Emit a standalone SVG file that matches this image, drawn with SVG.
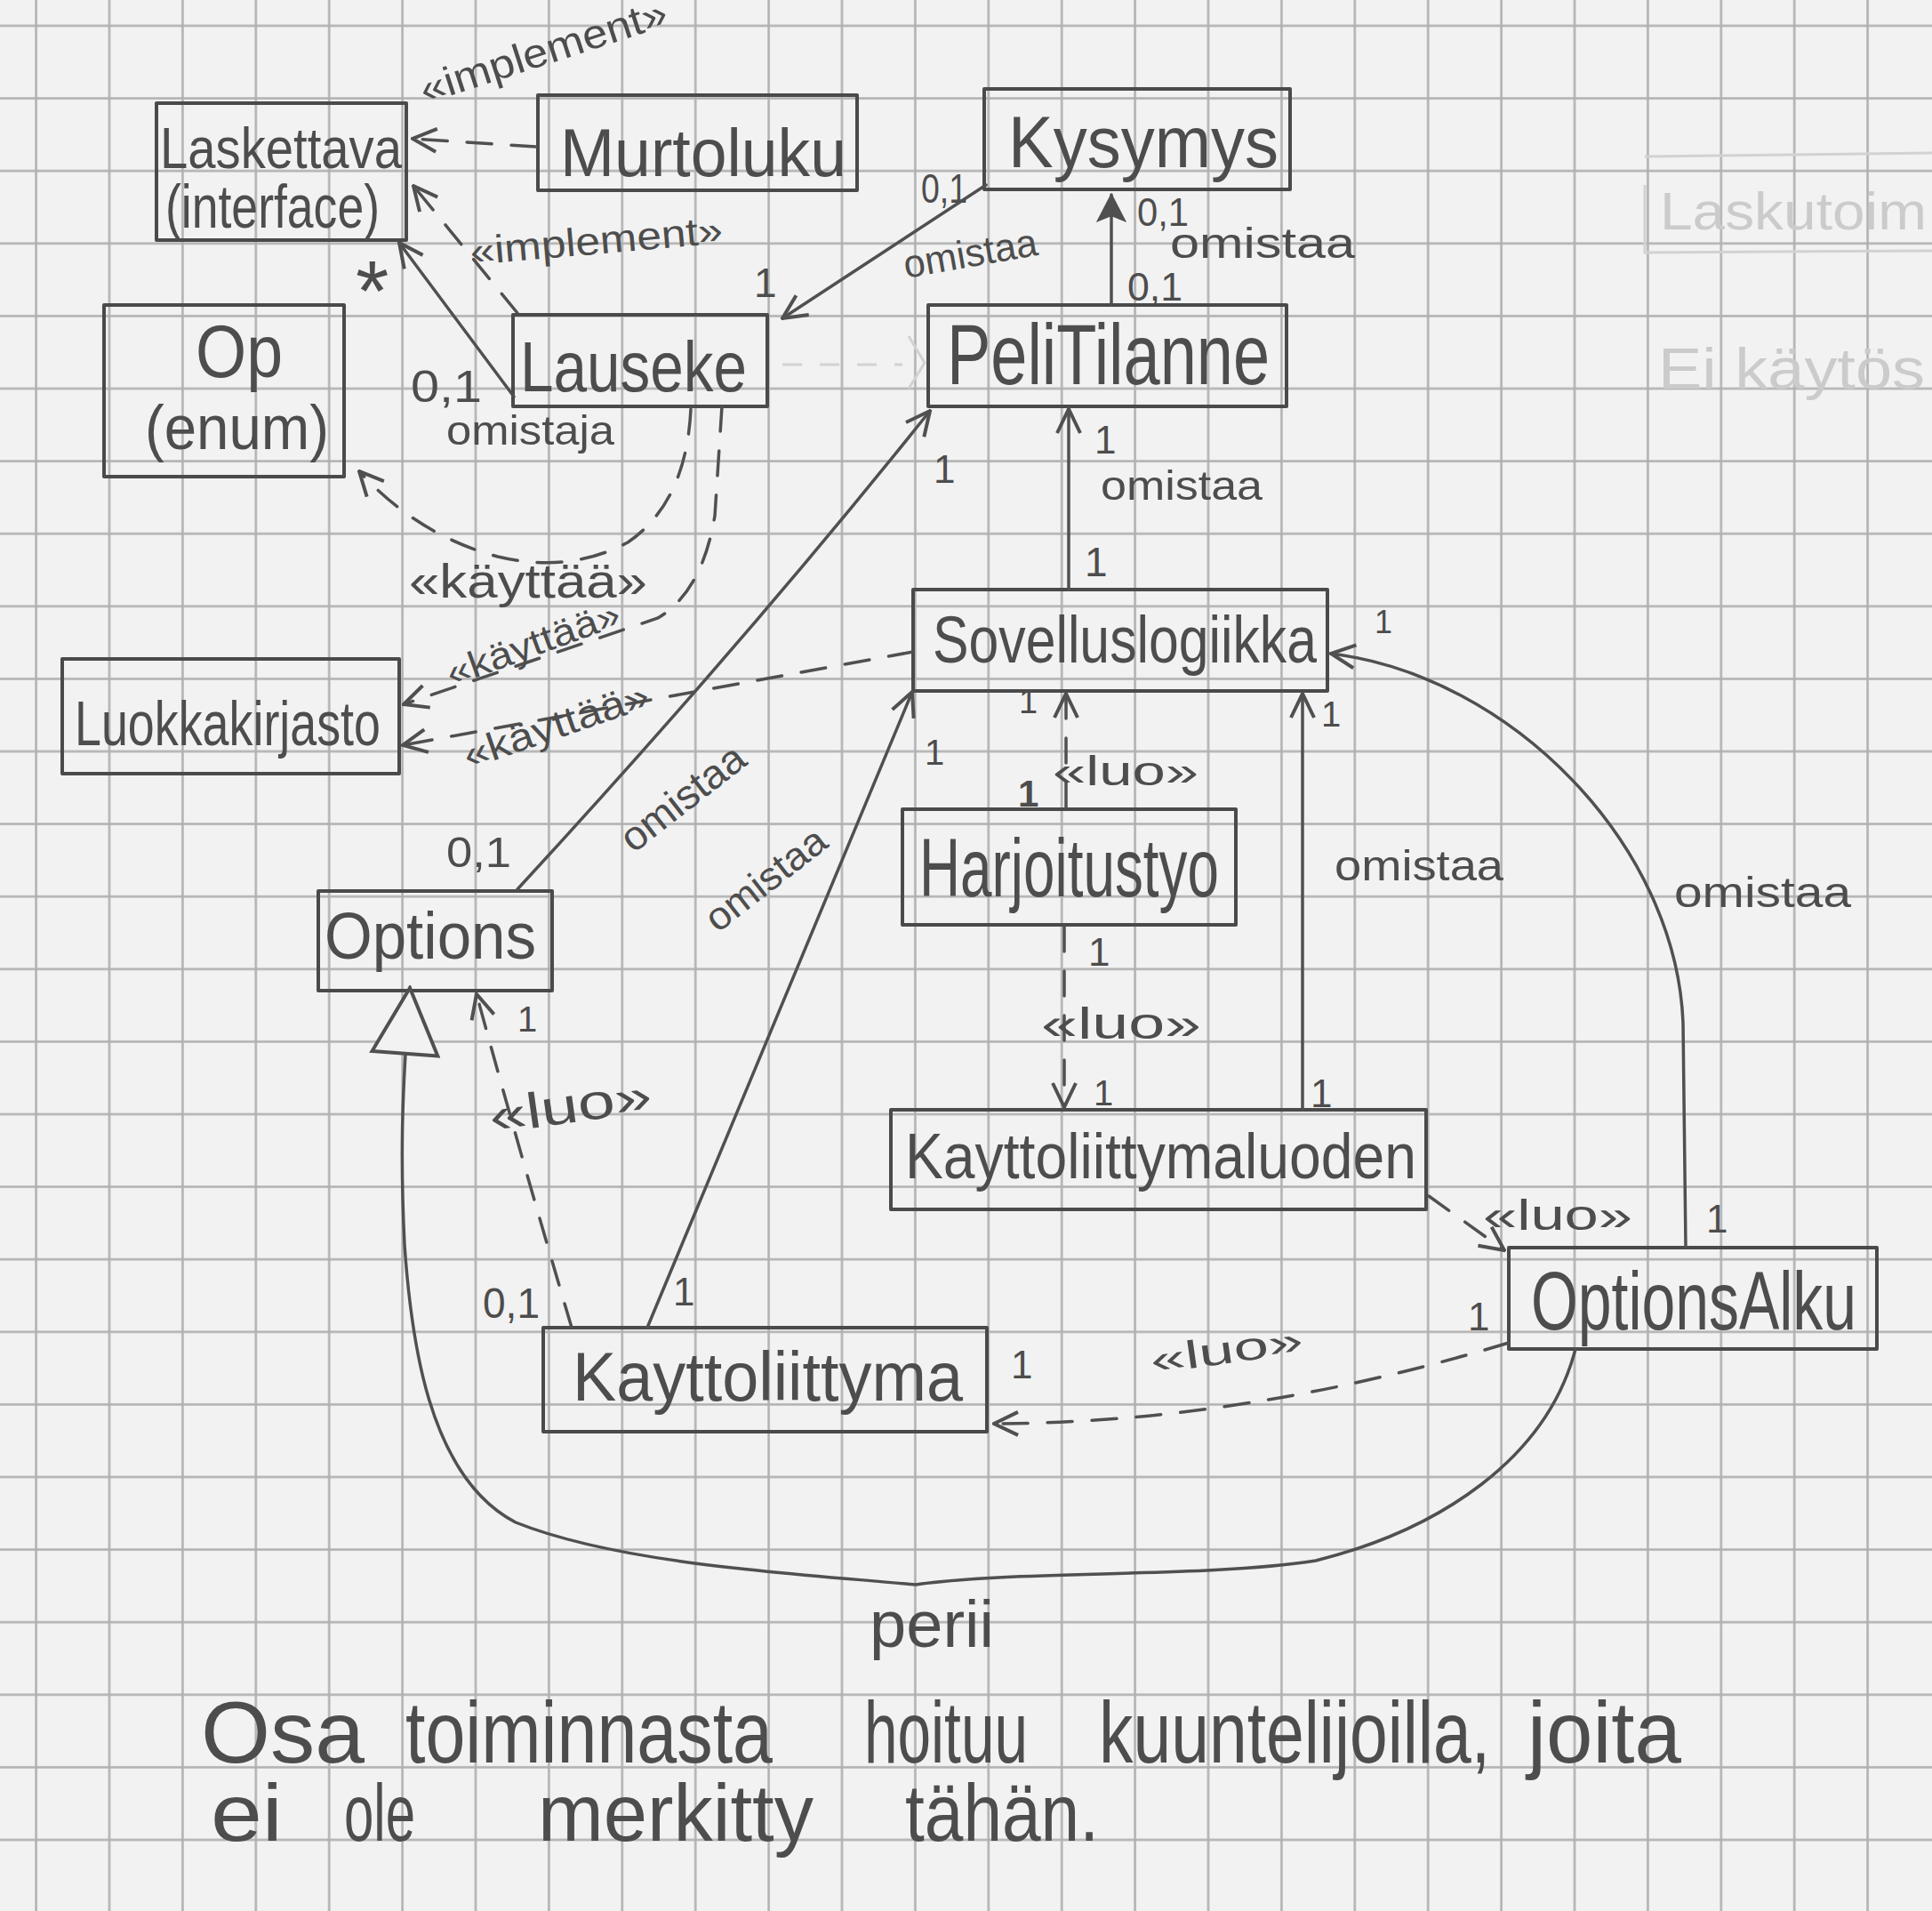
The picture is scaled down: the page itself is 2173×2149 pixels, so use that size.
<svg xmlns="http://www.w3.org/2000/svg" width="2173" height="2149" viewBox="0 0 2173 2149">
<style>
.box{fill:none;stroke:#4a4a4a;stroke-width:4;stroke-linejoin:round}
.ln{fill:none;stroke:#505050;stroke-width:3.5;stroke-linecap:round}
.dash{stroke-dasharray:28 22}
.faint{fill:none;stroke:#d2d2d2;stroke-width:3}
text{font-family:"Liberation Sans",Arial,sans-serif;fill:#4d4d4d}
.ft{fill:#cbcbcb}
</style>
<defs>
<pattern id="grid" patternUnits="userSpaceOnUse" x="121.5" y="27.5" width="82.4" height="81.6">
<path d="M1.5,0 V81.6 M0,1.5 H82.4" stroke="#b0b0b0" stroke-width="2.5" fill="none"/>
</pattern>
<marker id="open" viewBox="0 0 32 32" refX="30" refY="16" markerWidth="32" markerHeight="32" markerUnits="userSpaceOnUse" orient="auto">
<path d="M3,3 L30,16 L3,29" fill="none" stroke="#505050" stroke-width="4" stroke-dasharray="none"/>
</marker>
<marker id="filled" viewBox="0 0 32 34" refX="31" refY="17" markerWidth="32" markerHeight="34" markerUnits="userSpaceOnUse" orient="auto">
<path d="M2,2 L31,17 L2,32 L8,17 Z" fill="#505050" stroke="#505050" stroke-width="2"/>
</marker>
<marker id="tri" viewBox="0 0 80 80" refX="77" refY="40" markerWidth="80" markerHeight="80" markerUnits="userSpaceOnUse" orient="auto">
<path d="M3,3 L77,40 L3,77 Z" fill="#f2f2f2" stroke="#505050" stroke-width="4" stroke-dasharray="none"/>
</marker>
</defs>
<rect x="0" y="0" width="2173" height="2149" fill="#f2f2f2"/>
<rect x="0" y="0" width="2173" height="2149" fill="url(#grid)"/>

<g id="faint-erased">
<path class="faint" d="M1850,176 L2173,172 M1850,208 L1850,284 L2173,282"/>
<text class="ft" x="1867" y="258" font-size="60" textLength="300" lengthAdjust="spacingAndGlyphs">Laskutoim</text>
<text class="ft" x="1865" y="437" font-size="64" textLength="300" lengthAdjust="spacingAndGlyphs">Ei käytös</text>
<path class="faint" d="M880,410 L1015,410" stroke-dasharray="22 20"/>
<path class="faint" d="M1022,378 L1040,408 L1022,437"/>
</g>

<g id="nodes">
<g id="laskettava">
<rect class="box" x="176" y="116" width="281" height="154"/>
<text x="180" y="189" font-size="64" textLength="272" lengthAdjust="spacingAndGlyphs">Laskettava</text>
<text x="186" y="256" font-size="68" textLength="241" lengthAdjust="spacingAndGlyphs">(interface)</text>
</g>
<g id="murtoluku">
<rect class="box" x="605" y="107" width="359" height="107"/>
<text x="630" y="198" font-size="76" textLength="322" lengthAdjust="spacingAndGlyphs">Murtoluku</text>
</g>
<g id="kysymys">
<rect class="box" x="1107" y="100" width="344" height="113"/>
<text x="1134" y="188" font-size="82" textLength="304" lengthAdjust="spacingAndGlyphs">Kysymys</text>
</g>
<g id="op">
<rect class="box" x="117" y="343" width="270" height="193"/>
<text x="220" y="424" font-size="84" textLength="98" lengthAdjust="spacingAndGlyphs">Op</text>
<text x="163" y="505" font-size="70" textLength="207" lengthAdjust="spacingAndGlyphs">(enum)</text>
</g>
<g id="lauseke">
<rect class="box" x="577" y="354" width="286" height="103"/>
<text x="585" y="440" font-size="80" textLength="255" lengthAdjust="spacingAndGlyphs">Lauseke</text>
</g>
<g id="pelitilanne">
<rect class="box" x="1044" y="343" width="403" height="114"/>
<text x="1065" y="432" font-size="96" textLength="363" lengthAdjust="spacingAndGlyphs">PeliTilanne</text>
</g>
<g id="sovelluslogiikka">
<rect class="box" x="1027" y="663" width="466" height="114"/>
<text x="1049" y="745" font-size="74" textLength="432" lengthAdjust="spacingAndGlyphs">Sovelluslogiikka</text>
</g>
<g id="luokkakirjasto">
<rect class="box" x="70" y="741" width="379" height="129"/>
<text x="84" y="838" font-size="70" textLength="344" lengthAdjust="spacingAndGlyphs">Luokkakirjasto</text>
</g>
<g id="harjoitustyo">
<rect class="box" x="1015" y="910" width="375" height="130"/>
<text x="1034" y="1008" font-size="92" textLength="337" lengthAdjust="spacingAndGlyphs">Harjoitustyo</text>
</g>
<g id="options">
<rect class="box" x="358" y="1002" width="263" height="112"/>
<text x="365" y="1078" font-size="74" textLength="238" lengthAdjust="spacingAndGlyphs">Options</text>
</g>
<g id="kayttoliittymaluoden">
<rect class="box" x="1002" y="1248" width="602" height="112"/>
<text x="1018" y="1325" font-size="72" textLength="575" lengthAdjust="spacingAndGlyphs">Kayttoliittymaluoden</text>
</g>
<g id="optionsalku">
<rect class="box" x="1697" y="1403" width="414" height="114"/>
<text x="1722" y="1495" font-size="92" textLength="366" lengthAdjust="spacingAndGlyphs">OptionsAlku</text>
</g>
<g id="kayttoliittyma">
<rect class="box" x="611" y="1493" width="499" height="117"/>
<text x="644" y="1575" font-size="78" textLength="439" lengthAdjust="spacingAndGlyphs">Kayttoliittyma</text>
</g>
</g>

<g id="connectors">
<!-- Murtoluku implements Laskettava -->
<path class="ln dash" d="M603,165 L464,156" marker-end="url(#open)"/>
<text x="478" y="117" font-size="46" textLength="290" lengthAdjust="spacingAndGlyphs" transform="rotate(-18 478 117)">«implement»</text>
<!-- Lauseke implements Laskettava -->
<path class="ln dash" d="M582,352 L465,209" marker-end="url(#open)"/>
<text x="530" y="298" font-size="44" textLength="285" lengthAdjust="spacingAndGlyphs" transform="rotate(-5 530 298)">«implement»</text>
<!-- Lauseke omistaja Laskettava -->
<path class="ln" d="M578,446 L449,273" marker-end="url(#open)"/>
<text x="400" y="360" font-size="96">*</text>
<text x="462" y="452" font-size="50" textLength="80" lengthAdjust="spacingAndGlyphs">0,1</text>
<text x="502" y="500" font-size="46" textLength="189" lengthAdjust="spacingAndGlyphs">omistaja</text>
<!-- Kysymys - Lauseke -->
<path class="ln" d="M1109,208 L880,358" marker-end="url(#open)"/>
<text x="1036" y="228" font-size="46" textLength="52" lengthAdjust="spacingAndGlyphs">0,1</text>
<text x="1019" y="313" font-size="44" textLength="152" lengthAdjust="spacingAndGlyphs" transform="rotate(-10 1019 313)">omistaa</text>
<text x="848" y="334" font-size="46">1</text>
<!-- PeliTilanne - Kysymys -->
<path class="ln" d="M1250,343 L1250,219" marker-end="url(#filled)"/>
<text x="1279" y="254" font-size="44" textLength="58" lengthAdjust="spacingAndGlyphs">0,1</text>
<text x="1316" y="290" font-size="48" textLength="208" lengthAdjust="spacingAndGlyphs">omistaa</text>
<text x="1268" y="338" font-size="44" textLength="62" lengthAdjust="spacingAndGlyphs">0,1</text>
<!-- Sovelluslogiikka - PeliTilanne -->
<path class="ln" d="M1202,663 L1202,460" marker-end="url(#open)"/>
<text x="1231" y="510" font-size="44">1</text>
<text x="1238" y="562" font-size="46" textLength="182" lengthAdjust="spacingAndGlyphs">omistaa</text>
<text x="1220" y="648" font-size="46">1</text>
<!-- Options - PeliTilanne -->
<path class="ln" d="M582,1000 Q840,720 1046,462" marker-end="url(#open)"/>
<text x="1050" y="543" font-size="44">1</text>
<text x="770" y="912" font-size="46" text-anchor="middle" textLength="165" lengthAdjust="spacingAndGlyphs" transform="rotate(-38 770 900)">omistaa</text>
<text x="502" y="975" font-size="48" textLength="73" lengthAdjust="spacingAndGlyphs">0,1</text>
<!-- Lauseke kayttaa Op -->
<path class="ln dash" d="M777,460 Q772,565 706,610 Q640,645 560,626 Q470,602 404,530" marker-end="url(#open)"/>
<text x="460" y="672" font-size="54" textLength="268" lengthAdjust="spacingAndGlyphs">«käyttää»</text>
<!-- Lauseke kayttaa Luokkakirjasto -->
<path class="ln dash" d="M812,457 L804,580 Q790,665 740,695 L454,792" marker-end="url(#open)"/>
<text x="508" y="772" font-size="42" textLength="205" lengthAdjust="spacingAndGlyphs" transform="rotate(-20 508 772)">«käyttää»</text>
<!-- Sovelluslogiikka kayttaa Luokkakirjasto -->
<path class="ln dash" d="M1027,733 L453,838" marker-end="url(#open)"/>
<text x="527" y="865" font-size="44" textLength="218" lengthAdjust="spacingAndGlyphs" transform="rotate(-19 527 865)">«käyttää»</text>
<!-- Harjoitustyo luo Sovelluslogiikka -->
<path class="ln dash" d="M1199,908 L1199,780" marker-end="url(#open)"/>
<text x="1146" y="802" font-size="38">1</text>
<text x="1184" y="883" font-size="46" textLength="164" lengthAdjust="spacingAndGlyphs">«luo»</text>
<text x="1145" y="907" font-size="42" font-weight="bold">1</text>
<!-- Harjoitustyo luo Kayttoliittymaluoden -->
<path class="ln dash" d="M1197,1042 L1197,1245" marker-end="url(#open)"/>
<text x="1224" y="1086" font-size="44">1</text>
<text x="1171" y="1168" font-size="50" textLength="180" lengthAdjust="spacingAndGlyphs">«luo»</text>
<text x="1230" y="1243" font-size="40">1</text>
<!-- Kayttoliittyma - Sovelluslogiikka -->
<path class="ln" d="M728,1493 L1026,778" marker-end="url(#open)"/>
<text x="1040" y="860" font-size="40">1</text>
<text x="863" y="1003" font-size="44" text-anchor="middle" textLength="160" lengthAdjust="spacingAndGlyphs" transform="rotate(-38 863 991)">omistaa</text>
<text x="757" y="1468" font-size="44">1</text>
<!-- Kayttoliittymaluoden - Sovelluslogiikka -->
<path class="ln" d="M1465,1248 L1465,780" marker-end="url(#open)"/>
<text x="1486" y="817" font-size="40">1</text>
<text x="1501" y="990" font-size="48" textLength="190" lengthAdjust="spacingAndGlyphs">omistaa</text>
<text x="1474" y="1245" font-size="44">1</text>
<!-- OptionsAlku - Sovelluslogiikka -->
<path class="ln" d="M1896,1403 L1893,1150 C1885,950 1700,760 1497,735" marker-end="url(#open)"/>
<text x="1546" y="712" font-size="36">1</text>
<text x="1883" y="1020" font-size="48" textLength="199" lengthAdjust="spacingAndGlyphs">omistaa</text>
<text x="1919" y="1386" font-size="44">1</text>
<!-- Kayttoliittymaluoden luo OptionsAlku -->
<path class="ln dash" d="M1607,1345 L1692,1406" marker-end="url(#open)"/>
<text x="1668" y="1383" font-size="48" textLength="168" lengthAdjust="spacingAndGlyphs">«luo»</text>
<!-- OptionsAlku luo Kayttoliittyma -->
<path class="ln dash" d="M1697,1510 Q1400,1600 1118,1601" marker-end="url(#open)"/>
<text x="1651" y="1496" font-size="44">1</text>
<text x="1296" y="1545" font-size="44" textLength="173" lengthAdjust="spacingAndGlyphs" transform="rotate(-8 1296 1545)">«luo»</text>
<text x="1137" y="1550" font-size="44">1</text>
<!-- Kayttoliittyma luo Options -->
<path class="ln dash" d="M643,1493 Q580,1280 536,1118" marker-end="url(#open)"/>
<text x="582" y="1160" font-size="40">1</text>
<text x="553" y="1275" font-size="56" textLength="184" lengthAdjust="spacingAndGlyphs" transform="rotate(-8 553 1275)">«luo»</text>
<text x="543" y="1482" font-size="48" textLength="64" lengthAdjust="spacingAndGlyphs">0,1</text>
<!-- OptionsAlku perii Options -->
<path class="ln" d="M1772,1517 C1740,1640 1620,1720 1480,1755 C1350,1775 1150,1765 1030,1782 C900,1770 700,1760 580,1712 C480,1660 462,1500 455,1400 C450,1300 452,1230 461,1111" marker-end="url(#tri)"/>
<text x="978" y="1852" font-size="74" textLength="140" lengthAdjust="spacingAndGlyphs">perii</text>
</g>

<g id="note">
<text x="226" y="1982" font-size="98" textLength="184" lengthAdjust="spacingAndGlyphs">Osa</text>
<text x="456" y="1982" font-size="98" textLength="413" lengthAdjust="spacingAndGlyphs">toiminnasta</text>
<text x="972" y="1982" font-size="98" textLength="184" lengthAdjust="spacingAndGlyphs">hoituu</text>
<text x="1236" y="1982" font-size="98" textLength="440" lengthAdjust="spacingAndGlyphs">kuuntelijoilla,</text>
<text x="1718" y="1982" font-size="98" textLength="173" lengthAdjust="spacingAndGlyphs">joita</text>
<text x="237" y="2070" font-size="90" textLength="81" lengthAdjust="spacingAndGlyphs">ei</text>
<text x="387" y="2070" font-size="90" textLength="80" lengthAdjust="spacingAndGlyphs">ole</text>
<text x="605" y="2070" font-size="90" textLength="310" lengthAdjust="spacingAndGlyphs">merkitty</text>
<text x="1018" y="2070" font-size="90" textLength="218" lengthAdjust="spacingAndGlyphs">tähän.</text>
</g>
</svg>
